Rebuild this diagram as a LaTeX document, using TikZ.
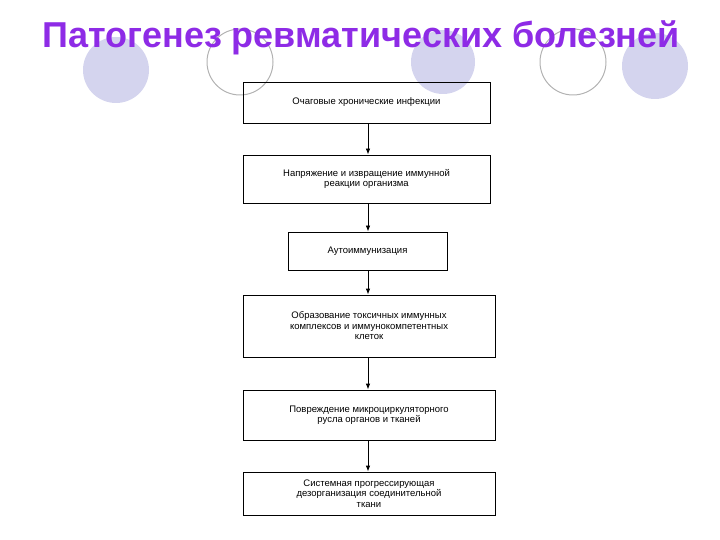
\documentclass[tikz,border=0pt]{standalone}
\usepackage{fontspec}
\usetikzlibrary{arrows.meta}
\setmainfont{Liberation Sans}
\definecolor{lav}{HTML}{D4D4EE}
\definecolor{ttl}{HTML}{8E2BE6}
\begin{document}
\begin{tikzpicture}[x=1pt,y=-1pt,
  boxn/.style={draw,line width=0.8pt,minimum height=#1,align=center,font=\fontsize{9.5}{10.5}\selectfont,inner sep=2pt},
  arr/.style={-{Latex[length=6pt,width=4.5pt]},line width=0.8pt}]
\useasboundingbox (0,0) rectangle (720,540);
\fill[lav] (116,70) circle (33);
\fill[lav] (443,62) circle (32);
\fill[lav] (655,66) circle (33);
\draw[gray!60,line width=1pt] (240,62) circle (33);
\draw[gray!60,line width=1pt] (573,62) circle (33);
\node[font=\fontsize{36}{38}\selectfont\bfseries,text=ttl] (title) at (361,38) {Патогенез ревматических болезней};
\node[boxn=41pt,minimum width=247pt] (b1) at (366.5,102.5) {Очаговые хронические инфекции};
\node[boxn=48pt,minimum width=247pt] (b2) at (366.5,179) {Напряжение и извращение иммунной\\реакции организма};
\node[boxn=38pt,minimum width=159pt] (b3) at (367.5,251) {Аутоиммунизация};
\node[boxn=62pt,minimum width=252pt] (b4) at (369,326) {Образование токсичных иммунных\\комплексов и иммунокомпетентных\\клеток};
\node[boxn=50pt,minimum width=252pt] (b5) at (369,415) {Повреждение микроциркуляторного\\русла органов и тканей};
\node[boxn=43pt,minimum width=252pt] (b6) at (369,493.5) {Системная прогрессирующая\\дезорганизация соединительной\\ткани};
\draw[arr] (b1.south -| 368,0) -- (b2.north -| 368,0);
\draw[arr] (b2.south -| 368,0) -- (b3.north -| 368,0);
\draw[arr] (b3.south -| 368,0) -- (b4.north -| 368,0);
\draw[arr] (b4.south -| 368,0) -- (b5.north -| 368,0);
\draw[arr] (b5.south -| 368,0) -- (b6.north -| 368,0);
\end{tikzpicture}
\end{document}
